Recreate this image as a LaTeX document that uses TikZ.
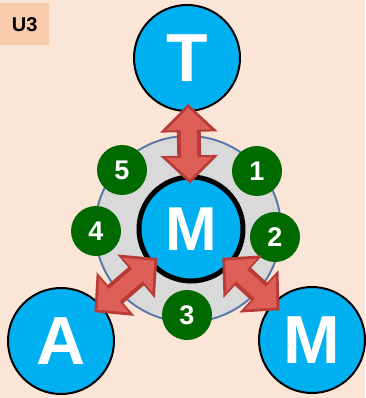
\documentclass[tikz,border=0pt]{standalone}
\usepackage{fontspec}
\setmainfont{Liberation Sans}
\usetikzlibrary{arrows.meta}
\definecolor{bg}{HTML}{FBE5D6}
\definecolor{tag}{HTML}{F8CBAD}
\definecolor{sky}{HTML}{00B0F0}
\definecolor{ring}{HTML}{D9D9D9}
\definecolor{ringedge}{HTML}{5A7AA8}
\definecolor{dgreen}{HTML}{006A00}
\definecolor{arrowred}{HTML}{B83B37}
\definecolor{arrowlight}{HTML}{DE5F57}
\begin{document}
\begin{tikzpicture}[x=1pt,y=-1pt,
 letter/.style={circle, fill=sky, draw=black, line width=2pt, minimum size=106pt, inner sep=0pt, text=white, font=\fontsize{68}{68}\selectfont\bfseries},
 num/.style={circle, fill=dgreen, minimum size=50pt, inner sep=0pt, text=white, font=\fontsize{27}{27}\selectfont\bfseries},
 bigarrow/.style={draw=arrowred, line width=24pt, {Triangle[length=28pt,width=56pt]}-{Triangle[length=28pt,width=56pt]}},
 arrowtop/.style={draw=arrowlight, line width=16pt, {Triangle[length=22pt,width=44pt]}-{Triangle[length=22pt,width=44pt]}}]
\fill[bg] (0,0) rectangle (365,398);
\useasboundingbox (0,0) rectangle (365,398);
\node[fill=tag, minimum width=49pt, minimum height=42pt, inner sep=0pt, anchor=north west, font=\fontsize{20}{20}\selectfont\bfseries] (tag) at (0,3) {U3};
\node[circle, fill=ring, draw=ringedge, line width=2pt, minimum size=186pt, inner sep=0pt] (ring) at (188,229) {};
\node[num] (n1) at (257,171) {1};
\node[num] (n2) at (275,237) {2};
\node[num] (n3) at (187,315) {3};
\node[num] (n4) at (96,231) {4};
\node[num] (n5) at (122,170) {5};
\node[letter, line width=5pt, minimum size=104pt, font=\fontsize{62}{62}\selectfont\bfseries] (M) at (191,229) {M};
\node[letter] (T) at (187,58) {T};
\node[letter] (A) at (61,341) {A};
\node[letter] (M2) at (312,340) {M};
\draw[bigarrow, shorten <=-8pt, shorten >=-9pt] (T) -- (M);
\draw[arrowtop, shorten <=-4pt, shorten >=-5pt] (T) -- (M);
\draw[bigarrow, shorten <=-10pt, shorten >=-10pt] (M) -- (A);
\draw[arrowtop, shorten <=-6pt, shorten >=-6pt] (M) -- (A);
\draw[bigarrow, shorten <=-12pt, shorten >=-10pt] (M) -- (M2);
\draw[arrowtop, shorten <=-8pt, shorten >=-6pt] (M) -- (M2);
\end{tikzpicture}
\end{document}
